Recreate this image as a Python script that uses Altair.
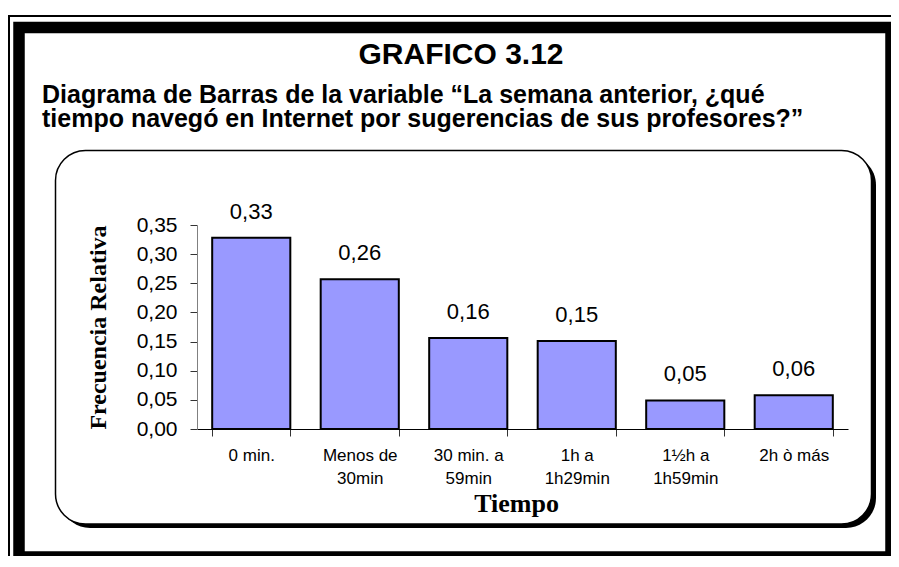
import altair as alt
import pandas as pd

# ---- data ----
categories = ["0 min.", "Menos de\n30min", "30 min. a\n59min", "1h a\n1h29min", "1½h a\n1h59min", "2h ò más"]
rel_freq = [0.328, 0.257, 0.156, 0.151, 0.049, 0.058]
y_ticks = [0.0, 0.05, 0.10, 0.15, 0.20, 0.25, 0.30, 0.35]

title_main = "GRAFICO 3.12"
subtitle_text = (
    "Diagrama de Barras de la variable \u201cLa semana anterior, \u00bfqu\u00e9\n"
    "tiempo naveg\u00f3 en Internet por sugerencias de sus profesores?\u201d"
)
x_title = "Tiempo"
y_title = "Frecuencia Relativa"

SANS = "Liberation Sans"
SERIF = "Liberation Serif"

df = pd.DataFrame({"cat": categories, "v": rel_freq})
one = pd.DataFrame({"d": [0]})

x_enc = alt.X(
    "cat:N",
    sort=categories,
    scale=alt.Scale(paddingInner=0.28, paddingOuter=0.14),
    axis=alt.Axis(
        title=x_title,
        labelAngle=0,
        labelExpr="split(datum.label, '\\n')",
        labelFont=SANS,
        labelFontSize=17,
        labelColor="black",
        labelLineHeight=23,
        labelPadding=11,
        labelBaseline="top",
        domainColor="black",
        domainWidth=1,
        tickColor="#333333",
        tickSize=7,
        tickBand="extent",
        titleFont=SERIF,
        titleFontSize=26,
        titleFontWeight="bold",
        titleColor="black",
        titleX=319,
        titleY=74,
        titleBaseline="middle",
        titleAlign="center",
        zindex=1,
    ),
)

y_enc = alt.Y(
    "v:Q",
    scale=alt.Scale(domain=[0, 0.35], nice=False, zero=True),
    axis=alt.Axis(
        title=y_title,
        values=y_ticks,
        grid=False,
        labelExpr="replace(format(datum.value, '.2f'), '.', ',')",
        labelFont=SANS,
        labelFontSize=21,
        labelColor="black",
        labelPadding=13,
        labelBaseline="middle",
        domainColor="#808080",
        domainWidth=1,
        tickColor="#333333",
        tickSize=7,
        titleFont=SERIF,
        titleFontSize=24,
        titleFontWeight="bold",
        titleColor="black",
        titleAngle=270,
        titleX=-99,
        titleY=102,
        titleBaseline="middle",
        titleAlign="center",
        zindex=1,
    ),
)

# ---- decorative frame (pixel positions relative to plot origin) ----
thin_frame = alt.Chart(one).mark_rect(filled=False, stroke="black", strokeWidth=2).encode(
    x=alt.value(-188), x2=alt.value(712), y=alt.value(-209), y2=alt.value(352)
)
thick_frame = alt.Chart(one).mark_rect(filled=False, stroke="black", strokeWidth=11.5).encode(
    x=alt.value(-178), x2=alt.value(694), y=alt.value(-197.5), y2=alt.value(332)
)
shadow = alt.Chart(one).mark_rect(fill="black", cornerRadius=30).encode(
    x=alt.value(-137), x2=alt.value(679), y=alt.value(-70), y2=alt.value(303)
)
panel = alt.Chart(one).mark_rect(fill="white", stroke="black", strokeWidth=1.5, cornerRadius=30).encode(
    x=alt.value(-141.5), x2=alt.value(674.5), y=alt.value(-74.5), y2=alt.value(299)
)

title_layer = alt.Chart(pd.DataFrame({"t": [title_main]})).mark_text(
    font=SANS, fontSize=30, fontWeight="bold", color="black", align="center", baseline="alphabetic"
).encode(text="t:N", x=alt.value(264), y=alt.value(-161.5))

sub_layer = alt.Chart(pd.DataFrame({"t": [subtitle_text]})).mark_text(
    font=SANS, fontSize=25, fontWeight="bold", color="black", align="left", baseline="alphabetic",
    lineBreak="\n", lineHeight=24
).encode(text="t:N", x=alt.value(-155), y=alt.value(-122.3))

bars = alt.Chart(df).mark_bar(fill="#9999FF", stroke="black", strokeWidth=2).encode(
    x=x_enc, y=y_enc
)

labels = alt.Chart(df).transform_calculate(
    lbl="replace(format(datum.v, '.2f'), '.', ',')"
).mark_text(
    font=SANS, fontSize=22, color="black", dy=-19, baseline="alphabetic", align="center"
).encode(x=x_enc, y=y_enc, text="lbl:N")

chart = alt.layer(
    thin_frame, thick_frame, shadow, panel, title_layer, sub_layer, bars, labels
).properties(
    width=651,
    height=204,
    padding={"left": 189, "top": 217, "right": 43, "bottom": 127},
    autosize=alt.AutoSizeParams(type="none"),
    background="white",
).configure_view(stroke=None)

chart.save("out.html", embed_options={"renderer": "svg", "actions": False})
